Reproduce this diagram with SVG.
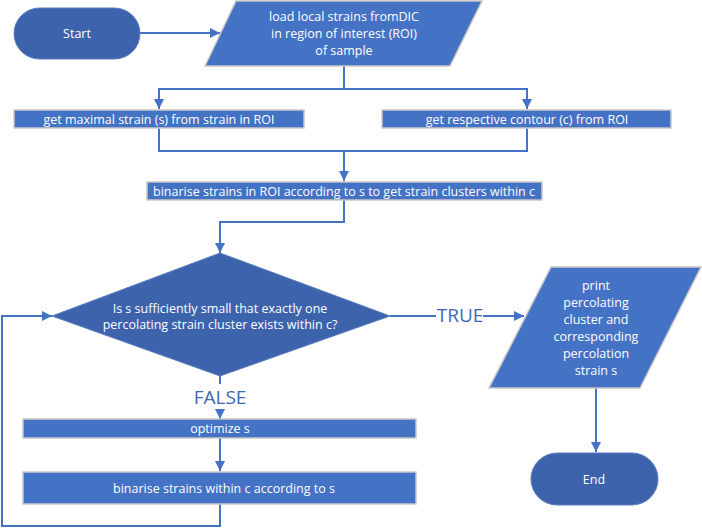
<svg xmlns="http://www.w3.org/2000/svg" width="702" height="528" viewBox="0 0 702 528">
<defs>
<marker id="arr" viewBox="0 0 10 10" refX="10" refY="5" markerWidth="10" markerHeight="10" markerUnits="userSpaceOnUse" orient="auto">
<path d="M0,0 L10,5 L0,10 z" fill="#4472C4"/>
</marker>
<style>
.box{fill:#4472C4;stroke:#c8c8c8;stroke-width:1.5}
.dark{fill:#3D63AC;stroke:#5b7cbf;stroke-width:1}
.t{font-family:"Open Sans","Noto Sans","DejaVu Sans",sans-serif;font-size:12.5px;fill:#ffffff;text-anchor:middle;dominant-baseline:central}
.lbl{font-family:"Open Sans","Noto Sans","DejaVu Sans",sans-serif;font-size:19px;fill:#3F66B5;text-anchor:middle;dominant-baseline:central}
.c{fill:none;stroke:#4472C4;stroke-width:2}
</style>
</defs>
<rect width="702" height="528" fill="#ffffff"/>
<g id="connectors">
<path class="c" d="M140,33 H220" marker-end="url(#arr)"/>
<path class="c" d="M344,66 V89 H159 V109" marker-end="url(#arr)"/>
<path class="c" d="M344,89 H527 V109" marker-end="url(#arr)"/>
<path class="c" d="M159,128 V151 H344 V181" marker-end="url(#arr)"/>
<path class="c" d="M527,128 V151 H344"/>
<path class="c" d="M344,200 V222 H220 V253" marker-end="url(#arr)"/>
<path class="c" d="M390,316 H436"/>
<path class="c" d="M483,316 H524" marker-end="url(#arr)"/>
<path class="c" d="M220,376 V384"/>
<path class="c" d="M220,410 V419" marker-end="url(#arr)"/>
<path class="c" d="M220,438 V471" marker-end="url(#arr)"/>
<path class="c" d="M220,504 V526 H2 V316 H52" marker-end="url(#arr)"/>
<path class="c" d="M596,388 V452" marker-end="url(#arr)"/>
<text class="lbl" x="460" y="315">TRUE</text>
<text class="lbl" x="220" y="397">FALSE</text>
</g>
<g id="start">
<rect class="dark" x="14" y="8" width="126" height="51" rx="25.5"/>
<text class="t" x="77" y="33">Start</text>
</g>
<g id="load">
<polygon class="box" points="236,1 482,1 450,66 205,66"/>
<text class="t" x="344" y="16">load local strains fromDIC</text>
<text class="t" x="344" y="33">in region of interest (ROI)</text>
<text class="t" x="344" y="50">of sample</text>
</g>
<g id="maxstrain">
<rect class="box" x="14" y="110" width="290" height="18"/>
<text class="t" x="159" y="119">get maximal strain (s) from strain in ROI</text>
</g>
<g id="contour">
<rect class="box" x="382" y="110" width="289" height="18"/>
<text class="t" x="527" y="119">get respective contour (c) from ROI</text>
</g>
<g id="binarise1">
<rect class="box" x="147" y="182" width="395" height="18"/>
<text class="t" x="344" y="191">binarise strains in ROI according to s  to get strain clusters within c</text>
</g>
<g id="decision">
<polygon class="dark" points="220,253 390,316 220,376 52,316"/>
<text class="t" x="220" y="308">Is s sufficiently small that exactly one</text>
<text class="t" x="220" y="324">percolating strain cluster exists within c?</text>
</g>
<g id="print">
<polygon class="box" points="551,267 701,267 640,388 489,388"/>
<text class="t" x="596" y="285">print</text>
<text class="t" x="596" y="302">percolating</text>
<text class="t" x="596" y="319">cluster and</text>
<text class="t" x="596" y="336">corresponding</text>
<text class="t" x="596" y="353">percolation</text>
<text class="t" x="596" y="370">strain s</text>
</g>
<g id="optimize">
<rect class="box" x="23" y="419" width="393" height="19"/>
<text class="t" x="220" y="428.5">optimize s</text>
</g>
<g id="binarise2">
<rect class="box" x="23" y="472" width="393" height="32"/>
<text class="t" x="224" y="488">binarise strains within  c according to  s</text>
</g>
<g id="end">
<rect class="dark" x="531" y="453" width="127" height="52" rx="26"/>
<text class="t" x="594" y="479">End</text>
</g>
</svg>
